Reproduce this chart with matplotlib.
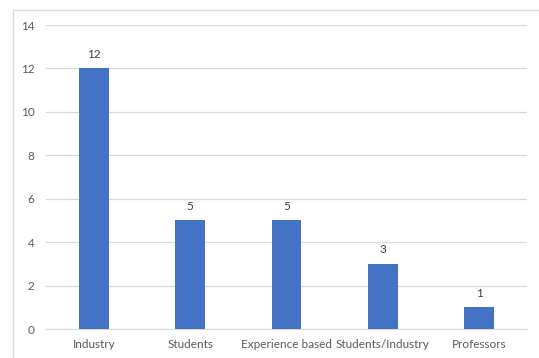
import matplotlib
matplotlib.use("Agg")
import matplotlib.pyplot as plt
from matplotlib.patches import Rectangle

CATEGORIES = ["Industry", "Students", "Experience based", "Students/Industry", "Professors"]
COUNTS = [12, 5, 5, 3, 1]

BAR_COLOR = "#4472C4"
TEXT_COLOR = "#595959"
GRID_COLOR = "#d9d9d9"

plt.rcParams["font.family"] = ["Lato", "DejaVu Sans"]

fig = plt.figure(figsize=(5.39, 3.58), dpi=100)
ax = fig.add_axes([0.085, 0.081, 0.893, 0.849])

# light frame around the chart, like the Excel chart area
fig.patches.append(Rectangle((13 / 539, -0.05), 1.2, 1 - 10 / 358 + 0.05,
                             transform=fig.transFigure, fill=False,
                             edgecolor=GRID_COLOR, linewidth=1.0))

x = range(len(CATEGORIES))
bars = ax.bar(x, COUNTS, width=0.31, color=BAR_COLOR, zorder=3)
for rect, v in zip(bars, COUNTS):
    ax.text(rect.get_x() + rect.get_width() / 2, v + 0.4, str(v),
            ha="center", va="bottom", fontsize=8.5, color="#404040")

ax.set_xlim(-0.5, len(CATEGORIES) - 0.5)
ax.set_ylim(0, 14)
ax.set_yticks(range(0, 15, 2))
ax.set_xticks(list(x))
ax.set_xticklabels(CATEGORIES)
ax.tick_params(axis="both", length=0, labelsize=8.5, labelcolor=TEXT_COLOR)
ax.tick_params(axis="y", pad=8)
ax.tick_params(axis="x", pad=7)
ax.grid(axis="y", color=GRID_COLOR, linewidth=0.9, zorder=0)
for side in ("top", "right", "left"):
    ax.spines[side].set_visible(False)
ax.spines["bottom"].set_color(GRID_COLOR)

fig.savefig("out.png", dpi=100)
